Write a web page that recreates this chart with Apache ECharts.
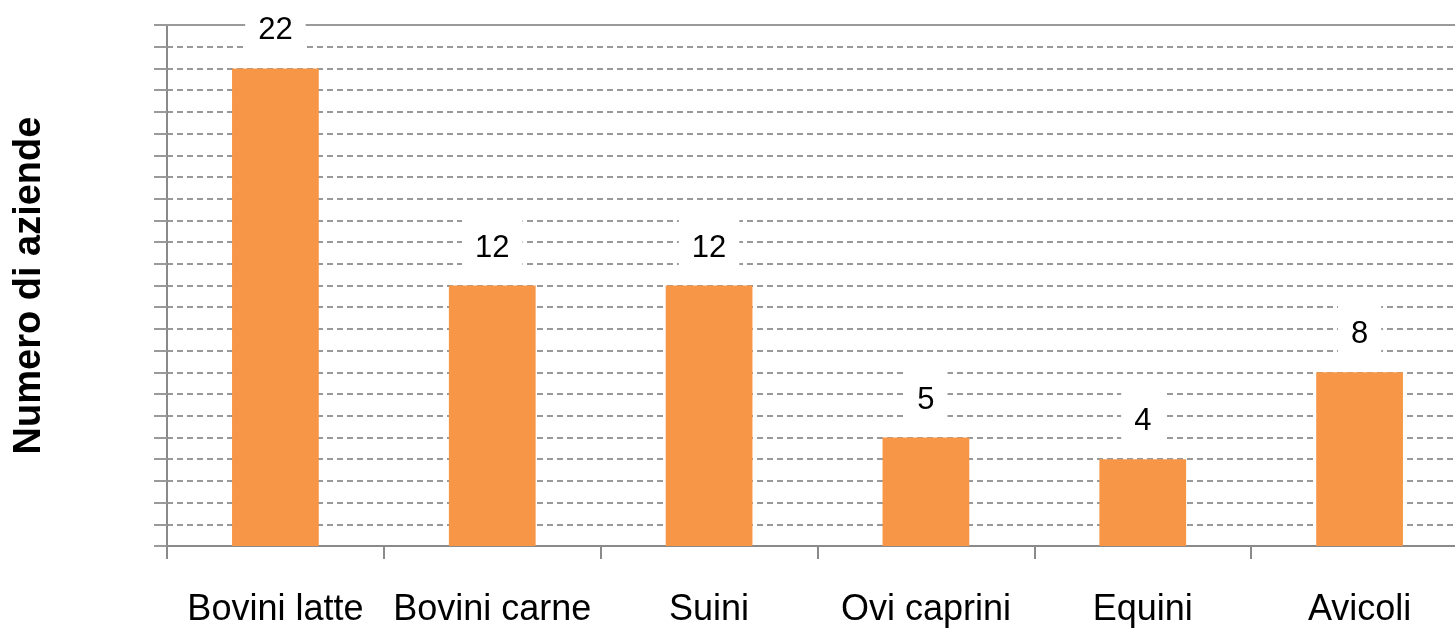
<!DOCTYPE html>
<html>
<head>
<meta charset="utf-8">
<script src="https://cdn.jsdelivr.net/npm/echarts@6/dist/echarts.min.js"></script>
<style>
html,body{margin:0;padding:0;background:#fff;overflow:hidden;}
#chart{width:1468px;height:633px;}
</style>
</head>
<body>
<div id="chart"></div>
<script>
var categories = ["Bovini latte", "Bovini carne", "Suini", "Ovi caprini", "Equini", "Avicoli"];
var values = [22, 12, 12, 5, 4, 8];
var yTitle = "Numero di aziende";
var yMin = 0, yMax = 24, yInterval = 1;

var chart = echarts.init(document.getElementById('chart'));
chart.setOption({
  backgroundColor: '#ffffff',
  animation: false,
  grid: { left: 167, right: 0, top: 25, bottom: 87, containLabel: false },
  xAxis: [{
    type: 'category',
    data: categories,
    position: 'bottom',
    axisLine: { show: true, lineStyle: { color: '#8a8a8a', width: 2 } },
    axisTick: { show: true, length: 13, lineStyle: { color: '#8a8a8a', width: 2 } },
    axisLabel: { interval: 0, color: '#000', fontFamily: 'Liberation Sans, Arial', fontSize: 36, margin: 46 },
    splitLine: { show: false }
  }, {
    type: 'category',
    data: categories,
    position: 'top',
    axisLine: { show: true, lineStyle: { color: '#9a9a9a', width: 2 } },
    axisTick: { show: false },
    axisLabel: { show: false },
    splitLine: { show: false }
  }],
  yAxis: {
    type: 'value',
    min: yMin, max: yMax, interval: yInterval,
    name: yTitle,
    nameLocation: 'middle',
    nameGap: 118,
    nameTextStyle: { color: '#000', fontFamily: 'Liberation Sans, Arial', fontSize: 38, fontWeight: 'bold' },
    axisLine: { show: true, lineStyle: { color: '#8a8a8a', width: 2 } },
    axisTick: { show: true, length: 13, lineStyle: { color: '#9a9a9a', width: 2 } },
    axisLabel: { show: false },
    splitLine: { show: true, lineStyle: { color: '#999999', width: 2, type: [6, 4] } }
  },
  series: [{
    type: 'bar',
    data: values,
    barWidth: '40%',
    itemStyle: { color: '#F79646' },
    label: {
      show: true,
      position: 'top',
      distance: 8,
      color: '#000',
      fontFamily: 'Liberation Sans, Arial',
      fontSize: 31,
      backgroundColor: '#ffffff',
      padding: [18, 13, 14, 13]
    }
  }]
});
</script>
</body>
</html>
